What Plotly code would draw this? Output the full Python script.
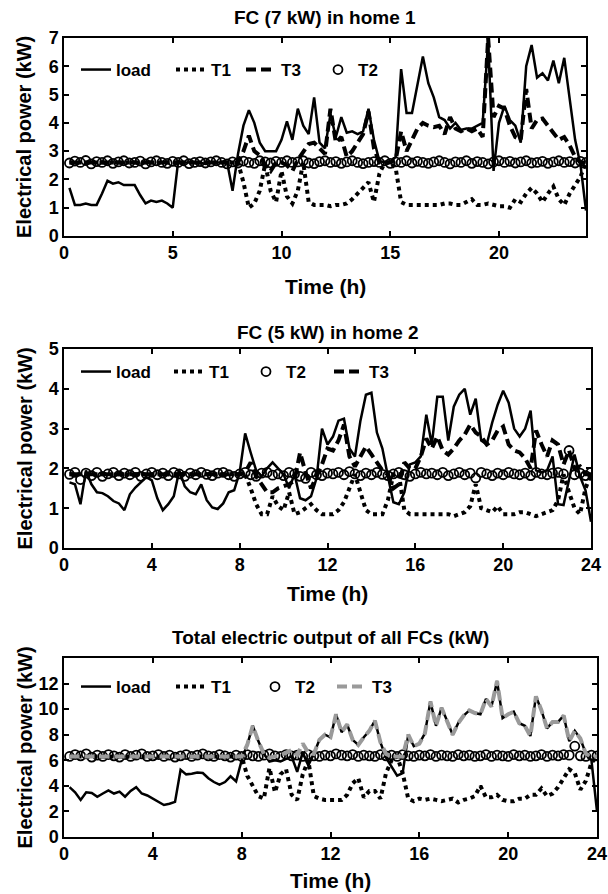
import plotly.graph_objects as go

FONT = "Liberation Sans, Arial, sans-serif"
WIDTH, HEIGHT = 608, 894

# time grid, 15-minute steps (h)
TIME = [i / 4 for i in range(1, 97)]

# ---- home 1, FC 7 kW ----
H1_LOAD = [1.7, 1.1, 1.1, 1.15, 1.1, 1.1, 1.5, 1.95,
           1.85, 1.9, 1.8, 1.8, 1.8, 1.45, 1.15, 1.25,
           1.2, 1.25, 1.15, 1.0, 2.65, 2.6, 2.6, 2.6,
           2.6, 2.55, 2.6, 2.6, 2.6, 2.6, 1.6, 2.9,
           3.9, 4.45, 4.0, 3.3, 3.0, 3.0, 3.0, 3.4,
           4.05, 3.4, 4.5, 3.9, 3.6, 4.9, 3.3, 3.1,
           4.3, 3.5, 4.2, 3.65, 3.7, 3.6, 3.7, 4.5,
           3.4, 2.65, 2.6, 2.6, 2.8, 5.9, 4.35, 4.35,
           5.3, 6.35, 5.4, 4.9, 4.2, 4.1, 3.8, 4.0,
           3.75, 3.8, 3.8, 3.9, 4.0, 6.9, 2.3, 4.0,
           4.6, 4.1, 3.9, 3.3, 6.0, 6.75, 5.6, 5.75,
           5.5, 6.2, 5.4, 6.3, 4.8, 3.4, 2.5, 0.9]
H1_T1 = [2.6, 2.6, 2.6, 2.6, 2.6, 2.6, 2.6, 2.6,
         2.6, 2.6, 2.6, 2.6, 2.6, 2.6, 2.6, 2.6,
         2.6, 2.6, 2.6, 2.6, 2.6, 2.6, 2.6, 2.6,
         2.6, 2.6, 2.6, 2.6, 2.6, 2.6, 2.6, 2.6,
         1.9, 1.0, 1.15, 1.6, 2.55, 1.6, 1.2, 2.3,
         1.4, 1.15, 1.6, 2.6, 1.2, 1.1, 1.1, 1.1,
         1.05, 1.1, 1.1, 1.15, 1.3, 1.5, 1.65, 1.9,
         1.2, 2.2, 2.6, 2.6, 2.4, 1.2, 1.1, 1.1,
         1.1, 1.1, 1.1, 1.1, 1.1, 1.15, 1.15, 1.1,
         1.1, 1.2, 1.3, 1.1, 1.1, 1.15, 1.1, 1.05,
         1.05, 1.0, 1.3, 1.2, 1.5, 1.7, 1.5, 1.2,
         1.5, 1.75, 1.3, 1.1, 1.5, 1.8, 2.1, 2.6]
H1_T2 = [2.58, 2.65, 2.6, 2.67, 2.55, 2.63, 2.6, 2.66,
         2.57, 2.62, 2.66, 2.58, 2.6, 2.65, 2.55, 2.62,
         2.66, 2.6, 2.57, 2.64, 2.6, 2.66, 2.56, 2.6,
         2.63, 2.58, 2.62, 2.66, 2.6, 2.55, 2.62, 2.58,
         2.65, 2.6, 2.57, 2.66, 2.62, 2.58, 2.64, 2.6,
         2.66, 2.6, 2.62, 2.66, 2.58, 2.56, 2.63, 2.66,
         2.6, 2.63, 2.57, 2.62, 2.66, 2.6, 2.56, 2.6,
         2.63, 2.6, 2.66, 2.57, 2.62, 2.6, 2.66, 2.58,
         2.64, 2.6, 2.57, 2.62, 2.66, 2.6, 2.55, 2.62,
         2.6, 2.66, 2.57, 2.63, 2.6, 2.55, 2.62, 2.66,
         2.6, 2.64, 2.58, 2.62, 2.66, 2.58, 2.6, 2.64,
         2.57, 2.62, 2.66, 2.6, 2.63, 2.58, 2.64, 2.6]
H1_T3 = [2.6, 2.6, 2.6, 2.6, 2.6, 2.6, 2.6, 2.6,
         2.6, 2.6, 2.6, 2.6, 2.6, 2.6, 2.6, 2.6,
         2.6, 2.6, 2.6, 2.6, 2.6, 2.6, 2.6, 2.6,
         2.6, 2.6, 2.6, 2.6, 2.6, 2.6, 2.6, 2.6,
         3.0, 3.55, 3.0, 2.85, 2.5, 2.3, 2.6, 2.6,
         2.5, 2.3, 2.7, 3.0, 3.25, 3.3, 3.1, 2.9,
         4.5, 3.3, 3.5, 2.8, 3.0, 3.3, 3.6, 4.4,
         3.1, 2.6, 2.6, 2.6, 2.7, 3.7, 3.0, 3.4,
         3.8, 4.0, 3.9, 3.85, 3.9, 3.6, 4.2, 3.8,
         3.7, 3.8, 3.7, 3.8, 3.5, 7.0, 4.2, 4.6,
         4.5, 3.9, 3.5, 3.4, 5.2, 3.8, 4.1, 4.15,
         3.9, 3.7, 3.4, 3.5, 3.2, 2.8, 2.6, 2.6]

# ---- home 2, FC 5 kW ----
H2_LOAD = [1.65, 1.6, 1.1, 1.95, 1.6, 1.4, 1.38, 1.3,
           1.18, 1.12, 0.95, 1.35, 1.52, 1.65, 1.78, 1.7,
           1.25, 0.95, 1.1, 1.3, 1.95, 1.55, 1.4, 1.35,
           1.6, 1.2, 1.02, 0.98, 1.12, 1.4, 1.45, 1.9,
           2.88, 2.4, 1.95, 1.8, 2.0, 2.15, 2.0, 1.85,
           1.5, 1.85, 1.25, 1.2, 1.3, 1.75, 3.0, 2.6,
           2.8, 3.2, 3.25, 2.5, 2.3, 3.2, 3.85, 3.9,
           2.9, 2.5, 1.8, 1.15, 1.1, 1.4, 2.1, 2.15,
           2.3, 3.35, 2.6, 3.8, 3.8, 2.7, 3.55, 3.85,
           4.0, 3.35, 3.75, 2.7, 2.6, 3.15, 3.6, 3.95,
           3.65, 3.0, 2.8, 3.0, 3.45, 1.95, 1.9, 1.95,
           2.3, 1.1, 1.08, 1.75, 2.35, 1.8, 1.45, 0.66]
H2_T1 = [1.85, 1.85, 1.85, 1.85, 1.85, 1.85, 1.85, 1.85,
         1.85, 1.85, 1.85, 1.85, 1.85, 1.85, 1.85, 1.85,
         1.85, 1.85, 1.85, 1.85, 1.85, 1.85, 1.85, 1.85,
         1.85, 1.85, 1.85, 1.85, 1.85, 1.85, 1.85, 1.85,
         1.85, 1.5, 1.1, 0.85, 0.85, 1.3, 1.05, 0.95,
         1.4, 0.85, 0.9, 1.0, 1.1, 0.95, 0.85, 0.85,
         0.85, 0.95, 1.15, 1.5, 1.85, 1.4, 0.95, 0.85,
         0.85, 0.85, 1.2, 1.85, 1.85, 0.95, 0.85, 0.85,
         0.85, 0.85, 0.85, 0.85, 0.85, 0.85, 0.8, 0.85,
         0.9, 1.05, 1.6, 1.0, 0.95, 0.9, 1.05, 0.85,
         0.85, 0.85, 0.9, 0.9, 0.85, 0.8, 0.85, 0.9,
         0.95, 1.2, 1.85, 1.4, 1.0, 0.85, 1.5, 1.85]
H2_T2 = [1.85, 1.9, 1.72, 1.88, 1.82, 1.9, 1.8, 1.86,
         1.9, 1.82, 1.88, 1.84, 1.9, 1.8, 1.86, 1.9,
         1.84, 1.88, 1.82, 1.9, 1.86, 1.8, 1.88, 1.84,
         1.9, 1.85, 1.82, 1.88, 1.9, 1.84, 1.8, 1.86,
         1.9, 1.84, 1.8, 1.88, 1.9, 1.83, 1.86, 1.82,
         1.9, 1.86, 1.8, 1.75, 1.9, 1.84, 1.82, 1.88,
         1.86, 1.9, 1.84, 1.92, 1.86, 1.82, 1.88, 1.84,
         1.9, 1.85, 1.82, 1.86, 1.9, 1.84, 1.8, 1.86,
         1.9, 1.86, 1.88, 1.84, 1.9, 1.82, 1.86, 1.9,
         1.84, 1.88, 1.76, 1.9, 1.86, 1.82, 1.88, 1.84,
         1.9, 1.86, 1.84, 1.88, 1.82, 1.9, 1.86, 1.84,
         1.88, 1.9, 1.86, 2.45, 1.84, 1.88, 1.82, 1.9]
H2_T3 = [1.85, 1.85, 1.85, 1.85, 1.85, 1.85, 1.85, 1.85,
         1.85, 1.85, 1.85, 1.85, 1.85, 1.85, 1.85, 1.85,
         1.85, 1.85, 1.85, 1.85, 1.85, 1.85, 1.85, 1.85,
         1.85, 1.85, 1.85, 1.85, 1.85, 1.85, 1.85, 1.85,
         1.9, 2.15, 1.8, 1.6, 1.4, 1.4, 1.5, 1.55,
         1.6, 1.7, 2.4, 1.9, 1.5, 1.8, 2.1, 2.5,
         2.45, 2.7, 3.1, 2.3, 2.05, 2.3, 2.55, 2.35,
         2.15, 1.95, 1.85, 1.5, 1.6, 2.15, 2.0, 2.0,
         2.3, 2.75, 2.5, 2.8, 2.45, 2.35, 2.5, 2.7,
         2.85, 3.1, 2.9, 2.8, 2.6, 2.7, 2.95, 3.05,
         2.6, 2.45, 2.4, 2.25, 2.0, 2.95, 2.6, 2.3,
         2.7, 2.6, 2.1, 2.45, 2.0, 2.05, 1.85, 1.85]

# ---- total of all FCs ----
H3_LOAD = [3.9, 3.5, 2.9, 3.5, 3.45, 3.15, 3.4, 3.65,
           3.4, 3.55, 3.15, 3.6, 3.9, 3.4, 3.25, 3.0,
           2.8, 2.5, 2.6, 2.75, 5.25, 4.9, 4.95, 5.05,
           5.0, 4.6, 4.3, 4.1, 4.3, 4.75, 4.35, 6.0,
           7.2, 8.7, 7.5, 6.5, 5.9, 6.0, 5.9, 6.1,
           6.3, 5.1, 6.6, 5.6, 6.5, 7.6, 8.0, 7.8,
           9.6, 8.2, 8.8, 7.6, 7.2, 7.8, 8.3, 9.1,
           7.4, 6.2, 5.5, 4.8, 5.0, 8.0, 7.1, 7.3,
           8.1, 10.6, 8.7, 10.1, 9.1, 8.0, 8.9, 9.5,
           9.9, 9.7, 9.6, 10.8, 10.2, 12.2, 9.3, 9.6,
           9.8, 8.9, 8.7, 7.9, 11.0, 9.9, 8.5, 9.0,
           9.0, 9.5, 7.5, 8.3, 7.7, 6.5, 6.0, 2.0]
H3_T1 = [6.3, 6.3, 6.3, 6.3, 6.3, 6.3, 6.3, 6.3,
         6.3, 6.3, 6.3, 6.3, 6.3, 6.3, 6.3, 6.3,
         6.3, 6.3, 6.3, 6.3, 6.3, 6.3, 6.3, 6.3,
         6.3, 6.3, 6.3, 6.3, 6.3, 6.3, 6.3, 6.3,
         4.8, 4.0, 3.2, 3.0, 5.4, 3.5, 4.9, 5.3,
         3.3, 2.9, 4.9, 6.0, 3.2, 3.0, 2.9, 2.9,
         2.9, 2.9, 3.3, 4.2, 4.6, 3.1, 3.6, 3.6,
         3.0, 5.0, 6.0, 6.3, 5.0, 3.0, 2.8, 3.0,
         2.9, 3.0, 2.9, 2.8, 2.9, 3.0, 2.7, 2.9,
         3.0, 3.2, 4.0, 3.1, 3.1, 3.3, 2.9, 2.8,
         2.8, 3.0, 3.0, 3.3, 3.3, 3.8, 3.2, 3.4,
         3.9, 4.6, 5.3, 5.0, 3.7, 4.4, 5.8, 6.3]
H3_T2 = [6.3, 6.45, 6.35, 6.5, 6.25, 6.4, 6.3, 6.45,
         6.35, 6.25, 6.45, 6.3, 6.4, 6.5, 6.3, 6.35,
         6.45, 6.3, 6.4, 6.25, 6.35, 6.45, 6.3, 6.4,
         6.5, 6.35, 6.3, 6.45, 6.35, 6.25, 6.4, 6.3,
         6.45, 6.35, 6.3, 6.4, 6.5, 6.35, 6.3, 6.45,
         6.35, 6.4, 6.3, 6.45, 6.35, 6.3, 6.4, 6.35,
         6.5, 6.4, 6.35, 6.45, 6.3, 6.4, 6.35, 6.3,
         6.45, 6.35, 6.4, 6.3, 6.45, 6.35, 6.3, 6.4,
         6.35, 6.45, 6.3, 6.4, 6.35, 6.3, 6.45, 6.35,
         6.4, 6.3, 6.35, 6.45, 6.3, 6.4, 6.35, 6.3,
         6.45, 6.35, 6.4, 6.3, 6.35, 6.45, 6.3, 6.4,
         6.35, 6.45, 6.4, 7.1, 6.35, 6.3, 6.4, 6.35]
H3_T3 = [6.3, 6.3, 6.3, 6.3, 6.3, 6.3, 6.3, 6.3,
         6.3, 6.3, 6.3, 6.3, 6.3, 6.3, 6.3, 6.3,
         6.3, 6.3, 6.3, 6.3, 6.3, 6.3, 6.3, 6.3,
         6.3, 6.3, 6.3, 6.3, 6.3, 6.3, 6.3, 6.3,
         7.2, 8.7, 7.5, 6.5, 6.2, 6.3, 6.4, 6.6,
         6.8, 6.4, 7.3, 6.6, 6.5, 7.6, 8.0, 7.8,
         9.6, 8.2, 8.8, 7.6, 7.2, 7.8, 8.3, 9.1,
         7.4, 6.5, 6.3, 6.3, 6.3, 8.0, 7.1, 7.3,
         8.1, 10.6, 8.7, 10.1, 9.1, 8.0, 8.9, 9.5,
         9.9, 9.7, 9.6, 10.8, 10.2, 12.2, 9.3, 9.6,
         9.8, 8.9, 8.7, 7.9, 11.0, 9.9, 8.5, 9.0,
         9.0, 9.5, 7.5, 8.3, 7.7, 6.5, 6.3, 6.3]

TITLES = ["FC (7 kW) in home 1", "FC (5 kW) in home 2", "Total electric output of all FCs (kW)"]
Y_RANGES = [[0, 7], [0, 5], [0, 14]]
Y_TICKS = [[0, 1, 2, 3, 4, 5, 6, 7], [0, 1, 2, 3, 4, 5], [0, 2, 4, 6, 8, 10, 12]]
X_TICKS = [[0, 5, 10, 15, 20], [0, 4, 8, 12, 16, 20, 24], [0, 4, 8, 12, 16, 20, 24]]

# panel boxes in pixels: left, right, top, bottom
BOXES = [(64, 586, 38, 236), (64, 591, 349, 548), (64, 597, 658, 837)]
TITLE_Y = [18, 332, 637]
XTITLE_Y = [287, 593, 880]
LEGEND_Y = [70, 372, 687]
# legend entry widths per panel, in legend order
LEGEND_WIDTHS = [[50, 25, 32, 30], [48, 32, 38, 30], [50, 39, 32, 30]]


def fx(px):
    return px / WIDTH


def fy(py):
    return 1 - py / HEIGHT


def series_trace(kind, y, n, color, legendwidth):
    """
    Builds one trace of a panel in the style of its series
    :param kind: load, T1, T2 or T3
    :param y: values of the series
    :param n: panel number (1..3)
    :param color: line colour
    :param legendwidth: width of the legend entry text
    :return: plotly scatter trace
    """
    suffix = "" if n == 1 else str(n)
    common = dict(x=TIME, y=y, name=kind, xaxis="x" + suffix, yaxis="y" + suffix,
                  legend="legend" + suffix, legendwidth=legendwidth, hoverinfo="skip")
    if kind == "T2":
        return go.Scatter(mode="markers",
                          marker=dict(symbol="circle-open", size=9, color="black",
                                      line=dict(width=1.8, color="black")), **common)
    if kind == "load":
        line = dict(color=color, width=2.5)
    elif kind == "T1":
        line = dict(color=color, width=4, dash="dot")
    else:
        line = dict(color=color, width=4, dash="10px,5px")
    return go.Scatter(mode="lines", line=line, **common)


fig = go.Figure()

panels = [
    [("load", H1_LOAD, "black"), ("T1", H1_T1, "black"), ("T3", H1_T3, "black"), ("T2", H1_T2, "black")],
    [("load", H2_LOAD, "black"), ("T1", H2_T1, "black"), ("T2", H2_T2, "black"), ("T3", H2_T3, "black")],
    [("load", H3_LOAD, "black"), ("T1", H3_T1, "black"), ("T2", H3_T2, "black"), ("T3", H3_T3, "#9a9a9a")],
]
for i, panel in enumerate(panels):
    for j, (kind, values, color) in enumerate(panel):
        fig.add_trace(series_trace(kind, values, i + 1, color, LEGEND_WIDTHS[i][j]))

tick_font = dict(family=FONT, size=18, color="black", weight="bold")
layout = dict(width=WIDTH, height=HEIGHT,
              margin=dict(l=0, r=0, t=0, b=0, pad=0, autoexpand=False),
              paper_bgcolor="white", plot_bgcolor="white", showlegend=True)
annotations = []
for i in range(3):
    suffix = "" if i == 0 else str(i + 1)
    left, right, top, bottom = BOXES[i]
    axis = dict(showline=True, linecolor="black", linewidth=1.5, mirror="ticks",
                ticks="inside", ticklen=5, tickwidth=1.5, tickcolor="black",
                showgrid=False, zeroline=False, tickfont=tick_font, fixedrange=True,
                automargin=False)
    layout["xaxis" + suffix] = dict(axis, domain=[fx(left), fx(right)], range=[0, 24],
                                    tickvals=X_TICKS[i], anchor="y" + suffix)
    layout["yaxis" + suffix] = dict(axis, domain=[fy(bottom), fy(top)], range=Y_RANGES[i],
                                    tickvals=Y_TICKS[i], anchor="x" + suffix)
    layout["legend" + suffix] = dict(orientation="h", x=fx(76), xanchor="left",
                                     y=fy(LEGEND_Y[i]), yanchor="middle",
                                     bgcolor="rgba(0,0,0,0)", traceorder="normal",
                                     itemclick=False,
                                     font=dict(family=FONT, size=17, color="black", weight="bold"))
    mid_x = fx((left + right) / 2)
    annotations.append(dict(text=TITLES[i], x=mid_x, y=fy(TITLE_Y[i]), xref="paper", yref="paper",
                            showarrow=False, xanchor="center", yanchor="middle",
                            font=dict(family=FONT, size=19, color="black", weight="bold")))
    annotations.append(dict(text="Time (h)", x=mid_x, y=fy(XTITLE_Y[i]), xref="paper", yref="paper",
                            showarrow=False, xanchor="center", yanchor="middle",
                            font=dict(family=FONT, size=21, color="black", weight="bold")))
    annotations.append(dict(text="Electrical power (kW)", x=fx(24), y=fy((top + bottom) / 2),
                            xref="paper", yref="paper", showarrow=False, textangle=-90,
                            xanchor="center", yanchor="middle",
                            font=dict(family=FONT, size=20, color="black", weight="bold")))
layout["annotations"] = annotations
fig.update_layout(**layout)

# the page body has a default 8px margin; drop it so the figure fills the window
fig.write_html("out.html", config={"displayModeBar": False},
               post_script="document.body.style.margin = '0';")
